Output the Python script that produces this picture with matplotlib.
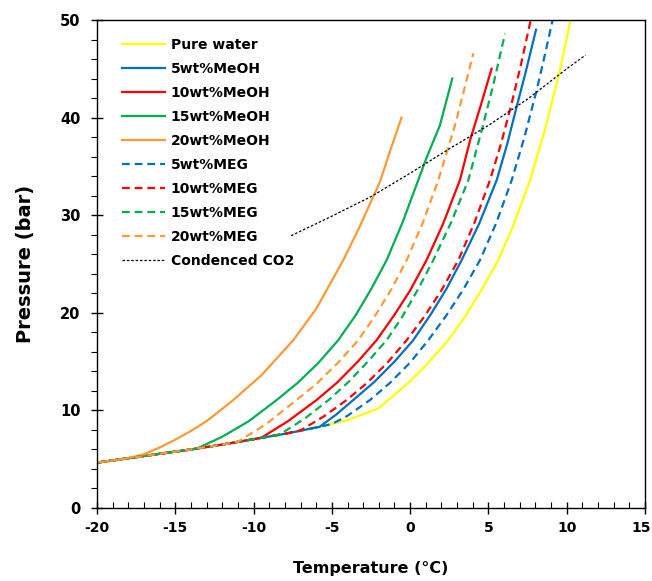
import matplotlib.pyplot as plt
from matplotlib.ticker import MultipleLocator
from matplotlib.transforms import ScaledTranslation

plt.rcParams['font.family'] = ['DejaVu Sans']
plt.rcParams['font.weight'] = 'bold'
plt.rcParams['axes.unicode_minus'] = False

# 读图得到的数据 (温度 °C, 压力 bar)
t_water = [-20, -18, -16, -14, -12, -10, -8, -6, -4, -2.05, -1.39, 0, 1, 2.44, 3.5, 4.5, 5.63, 6.6, 7.66, 8.6, 9.5, 10.25]
p_water = [4.65, 5.1, 5.55, 6.0, 6.5, 7.05, 7.6, 8.25, 9.0, 10.2, 11.07, 13.0, 14.6, 17.2, 19.6, 22.2, 25.4, 29.0, 33.6, 38.7, 44.4, 50.0]

t_meoh5 = [-20, -18, -16, -14, -12, -10, -8, -6, -5.8, -4.7, -3.63, -2.3, -1, 0.2, 1.3, 2.3, 3.29, 4.4, 5.53, 6.2, 6.8, 7.4, 8.04]
p_meoh5 = [4.65, 5.1, 5.55, 6.0, 6.5, 7.05, 7.6, 8.25, 8.3, 9.6, 11.07, 12.9, 15.0, 17.2, 19.8, 22.4, 25.4, 29.1, 33.6, 37.3, 41.1, 44.8, 49.0]

t_meoh10 = [-20, -18, -16, -14, -12, -10, -9.5, -7.8, -5.97, -4.7, -3.4, -2.14, -1, 0, 1.05, 2.1, 3.18, 3.85, 4.5, 5.2]
p_meoh10 = [4.65, 5.1, 5.55, 6.0, 6.5, 7.05, 7.2, 8.9, 11.07, 12.8, 14.9, 17.2, 19.8, 22.3, 25.4, 29.1, 33.6, 37.8, 41.2, 45.0]

t_meoh15 = [-20, -18, -16, -14, -13.6, -12, -10.3, -8.52, -7.2, -5.9, -4.59, -3.5, -2.5, -1.5, -0.5, 0.52, 1.05, 1.9, 2.69]
p_meoh15 = [4.65, 5.1, 5.55, 6.0, 6.1, 7.3, 8.9, 11.07, 12.8, 14.8, 17.2, 19.7, 22.4, 25.4, 29.2, 33.6, 35.9, 39.2, 44.0]

t_meoh20 = [-20, -18.2, -17, -16, -15, -14, -13, -11.29, -9.5, -7.46, -6, -4.27, -3.2, -2.5, -1.93, -1.3, -0.55]
p_meoh20 = [4.65, 5.05, 5.5, 6.2, 7.0, 7.9, 8.9, 11.07, 13.6, 17.2, 20.4, 25.4, 28.9, 31.4, 33.4, 36.5, 40.0]

t_meg5 = [-20, -18, -16, -14, -12, -10, -8, -6, -5, -4, -2.56, -1.3, 0, 1.16, 2.3, 3.4, 4.46, 5.5, 6.49, 7.3, 8.08, 8.6, 9.1]
p_meg5 = [4.65, 5.1, 5.55, 6.0, 6.5, 7.05, 7.6, 8.25, 8.6, 9.45, 11.07, 12.8, 14.9, 17.2, 19.7, 22.4, 25.4, 29.2, 33.6, 38.0, 42.8, 46.4, 50.0]

t_meg10 = [-20, -18, -16, -14, -12, -10, -8, -7, -5.5, -4.05, -2.8, -1.5, -0.22, 0.9, 2.0, 3.08, 4.1, 5.1, 5.8, 6.49, 7.1, 7.7]
p_meg10 = [4.65, 5.1, 5.55, 6.0, 6.5, 7.05, 7.6, 7.95, 9.4, 11.07, 12.75, 14.8, 17.2, 19.6, 22.3, 25.4, 29.2, 33.6, 37.3, 41.5, 45.6, 50.0]

t_meg15 = [-20, -18, -16, -14, -12, -10, -8.3, -6.7, -5.2, -3.9, -2.7, -1.5, -0.5, 0.5, 1.48, 2.6, 3.72, 4.57, 5.3, 6.06]
p_meg15 = [4.65, 5.1, 5.55, 6.0, 6.5, 7.05, 7.55, 9.2, 11.07, 12.97, 15.0, 17.2, 19.6, 22.4, 25.4, 29.2, 33.6, 38.7, 43.3, 48.6]

t_meg20 = [-20, -18, -16, -14, -12, -11, -9.2, -7.25, -6, -4.6, -3.31, -2.2, -1.2, -0.22, 0.8, 1.8, 2.9, 4.04]
p_meg20 = [4.65, 5.1, 5.55, 6.0, 6.5, 6.8, 8.6, 11.07, 12.7, 14.9, 17.2, 19.8, 22.4, 25.4, 29.2, 33.6, 39.4, 46.6]

t_co2 = [-7.6, -5, -2.5, 0, 2.5, 5, 7.5, 10, 11.2]
p_co2 = [27.9, 29.9, 31.9, 34.3, 36.8, 39.2, 41.9, 45.0, 46.4]

fig = plt.figure(figsize=(6.52, 5.81), dpi=100)
ax = fig.add_axes([97 / 652, 1 - 508 / 581, 548 / 652, 488 / 581])

dash = (0, (3.5, 2.2))
lw = 1.6

ax.plot(t_water, p_water, color='#FFFF00', lw=lw, label='Pure water')
ax.plot(t_meoh5, p_meoh5, color='#0070C0', lw=lw, label='5wt%MeOH')
ax.plot(t_meoh10, p_meoh10, color='#FF0000', lw=lw, label='10wt%MeOH')
ax.plot(t_meoh15, p_meoh15, color='#00B050', lw=lw, label='15wt%MeOH')
ax.plot(t_meoh20, p_meoh20, color='#FF9933', lw=lw, label='20wt%MeOH')
ax.plot(t_meg5, p_meg5, color='#0070C0', lw=lw, ls=dash, label='5wt%MEG')
ax.plot(t_meg10, p_meg10, color='#FF0000', lw=lw, ls=dash, label='10wt%MEG')
ax.plot(t_meg15, p_meg15, color='#00B050', lw=lw, ls=dash, label='15wt%MEG')
ax.plot(t_meg20, p_meg20, color='#FF9933', lw=lw, ls=dash, label='20wt%MEG')
ax.plot(t_co2, p_co2, color='black', lw=0.9, ls=(0, (2, 1.5)), label='Condenced CO2')

ax.set_xlim(-20, 15)
ax.set_ylim(0, 50)

# 刻度
ax.xaxis.set_major_locator(MultipleLocator(5))
ax.xaxis.set_minor_locator(MultipleLocator(1))
ax.yaxis.set_major_locator(MultipleLocator(10))
ax.yaxis.set_minor_locator(MultipleLocator(2))
ax.tick_params(axis='x', which='major', direction='inout', length=8, width=1, labelsize=10, pad=5)
ax.tick_params(axis='x', which='minor', direction='in', length=4, width=0.8)
ax.tick_params(axis='y', which='major', direction='inout', length=8, width=1, labelsize=10.5, pad=8)
ax.tick_params(axis='y', which='minor', direction='out', length=4, width=0.8)
for s in ax.spines.values():
    s.set_linewidth(1)

ax.set_xlabel('Temperature (°C)', fontsize=11.5, fontweight='bold', labelpad=19)
ax.set_ylabel('Pressure (bar)', fontsize=14, fontweight='bold', labelpad=18)

ax.legend(loc='upper left', bbox_to_anchor=(0.045, 0.963), frameon=False, fontsize=10,
          handlelength=3.1, handletextpad=0.43, labelspacing=0.72, borderpad=0, borderaxespad=0)

# 最右边的 "15" 稍微左移, 免得被裁掉
fig.canvas.draw()
last = ax.xaxis.get_major_ticks()[-1].label1
for tk in ax.xaxis.get_major_ticks():
    if tk.label1.get_text() == '15':
        last = tk.label1
last.set_transform(last.get_transform() + ScaledTranslation(-4 / 100, 0, fig.dpi_scale_trans))

fig.savefig('out.png', dpi=100)
